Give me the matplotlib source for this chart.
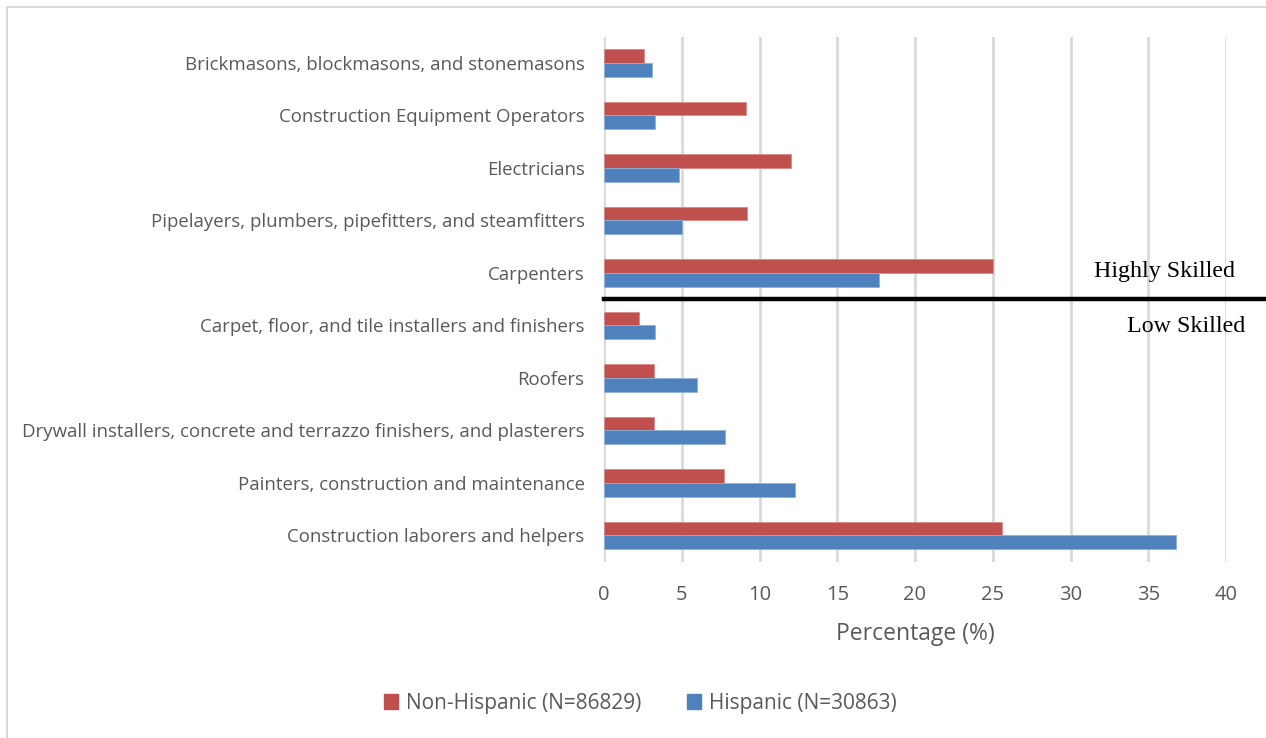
import matplotlib
matplotlib.use("Agg")
import matplotlib.pyplot as plt
import numpy as np
from matplotlib.patches import Rectangle, Patch

# occupations, bottom to top
occupations = [
    "Construction laborers and helpers",
    "Painters, construction and maintenance",
    "Drywall installers, concrete and terrazzo finishers, and plasterers",
    "Roofers",
    "Carpet, floor, and tile installers and finishers",
    "Carpenters",
    "Pipelayers, plumbers, pipefitters, and steamfitters",
    "Electricians",
    "Construction Equipment Operators",
    "Brickmasons, blockmasons, and stonemasons",
]
non_hispanic = [25.6, 7.7, 3.2, 3.2, 2.25, 25.0, 9.2, 12.05, 9.1, 2.6]
hispanic = [36.8, 12.3, 7.8, 6.0, 3.25, 17.7, 5.0, 4.8, 3.3, 3.1]
xticks = [0, 5, 10, 15, 20, 25, 30, 35, 40]

red = "#C0504D"
blue = "#4F81BD"
gray_txt = "#595959"
font = "Open Sans"

W, H = 1266, 738
fig = plt.figure(figsize=(W / 100, H / 100), dpi=100)

# light frame round the chart
fig.patches.append(Rectangle((7 / W, -0.1), 1.2, 1 - 7 / H + 0.1, transform=fig.transFigure,
                             fill=False, edgecolor="#d9d9d9", linewidth=1.5))

ax = fig.add_axes([604 / W, 1 - 561.7 / H, (1226 - 604) / W, (561.7 - 36.7) / H])

y = np.arange(len(occupations))
bh = 0.26
ax.barh(y + bh / 2, non_hispanic, height=bh, color=red, edgecolor="#d88a88", linewidth=0.6, zorder=3)
ax.barh(y - bh / 2, hispanic, height=bh, color=blue, edgecolor="#8fb0d8", linewidth=0.6, zorder=3)

ax.set_xlim(0, 40)
ax.set_ylim(-0.5, 9.5)
ax.set_xticks(xticks)
ax.set_xticklabels([str(t) for t in xticks], fontsize=14.5, color=gray_txt, family=font)
ax.set_yticks(y)
ax.set_yticklabels(occupations, fontsize=13.4, color=gray_txt, family=font)
ax.tick_params(axis="both", length=0)
ax.tick_params(axis="x", pad=17)
ax.tick_params(axis="y", pad=14)
ax.grid(axis="x", color="#d9d9d9", linewidth=2, zorder=0)
for s in ax.spines.values():
    s.set_visible(False)
ax.set_xlabel("Percentage (%)", fontsize=16.5, color=gray_txt, family=font, labelpad=12)

# divider between skill groups
ax.plot([0, (1266 - 604) / (1226 - 604)], [4.5, 4.5], color="black", linewidth=3.2,
        transform=ax.get_yaxis_transform(), clip_on=False, zorder=4)
fig.text(1164 / W, 1 - 271 / H, "Highly Skilled", ha="center", va="center",
         fontsize=17.3, family="Liberation Serif")
fig.text(1186 / W, 1 - 327 / H, "Low Skilled", ha="center", va="center",
         fontsize=17.3, family="Liberation Serif")

handles = [Patch(color=red, label="Non-Hispanic (N=86829)"),
           Patch(color=blue, label="Hispanic (N=30863)")]
leg = fig.legend(handles=handles, loc="center", bbox_to_anchor=(640 / W, 1 - 703 / H), ncol=2,
                 frameon=False, handlelength=0.7, handleheight=0.7, handletextpad=0.35,
                 columnspacing=2.2, prop={"family": font, "size": 15})
for t in leg.get_texts():
    t.set_color(gray_txt)

fig.savefig("out.png", dpi=100)
